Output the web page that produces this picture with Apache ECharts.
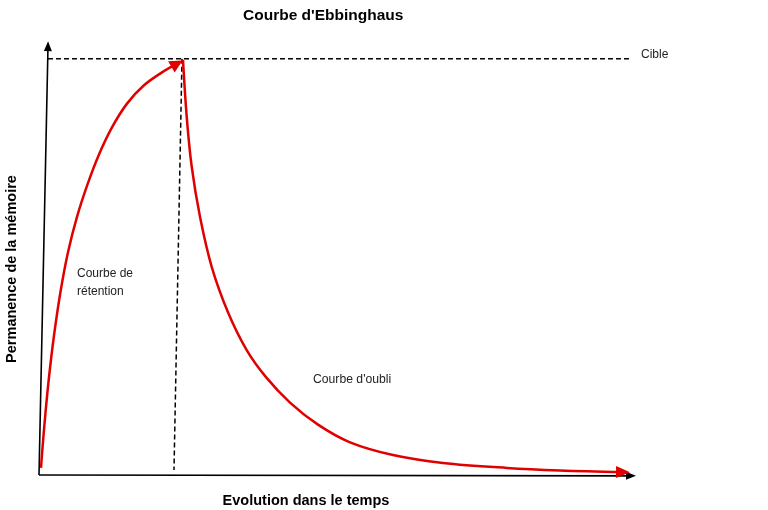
<!DOCTYPE html>
<html>
<head>
<meta charset="utf-8">
<script src="https://cdn.jsdelivr.net/npm/echarts@6/dist/echarts.min.js"></script>
<style>
html,body{margin:0;padding:0;background:#fff;}
#chart{width:768px;height:510px;}
</style>
</head>
<body>
<div id="chart"></div>
<script>
// Time in arbitrary units, memory permanence in % of target ("Cible" = 100)
var retentionTime = [0.4, 0.8, 1.3, 2.0, 3.0, 4.3, 5.8, 7.6, 9.7, 12.0, 14.6, 17.6, 21.0, 24.6, 27.6];
var retentionMemory = [1.7, 8.0, 15.0, 23.5, 33.5, 44.0, 53.5, 62.0, 69.8, 77.0, 83.5, 89.2, 93.6, 96.7, 98.8];
var forgettingTime = [28.8, 29.54, 30.54, 32.2, 34.54, 37.86, 41.54, 45.4, 50.2, 55.8, 62.2, 70.8, 80.8, 93.6, 104.2, 116.8];
var forgettingMemory = [99.7, 86.1, 74.1, 62.0, 50.0, 38.9, 30.0, 23.5, 17.4, 12.1, 7.85, 4.8, 2.9, 1.7, 1.1, 0.7];
var targetLevel = 100;
var targetTimeRange = [1.8, 118.2];
var peakTimeTop = 28.6, peakTimeBottom = 27.0, peakBottomLevel = 1.2;
var yAxisTime = [0, 1.8];
var yAxisLevel = [0, 103];
var xAxisTime = [0, 118.4];
var xAxisLevel = [0, -0.2];

var FONT = "'Liberation Sans', Arial, sans-serif";
var RED = '#e00000';

function arrowLine(xs, ys, rot, size, color, width, smooth) {
  var data = xs.map(function (x, i) { return [x, ys[i]]; });
  var last = data.length - 1;
  data[last] = { value: data[last], symbol: 'triangle', symbolSize: size, symbolRotate: rot };
  return {
    type: 'line', data: data, symbol: 'none', showSymbol: true, clip: false,
    smooth: smooth || false, silent: true, animation: false,
    lineStyle: { color: color, width: width },
    itemStyle: { color: color }
  };
}

var chart = echarts.init(document.getElementById('chart'), null, { renderer: 'canvas' });
chart.setOption({
  animation: false,
  title: {
    text: "Courbe d'Ebbinghaus", left: 238, top: 3,
    textStyle: { fontFamily: FONT, fontSize: 15.5, fontWeight: 'bold', color: '#000' }
  },
  grid: { left: 39, right: 129, top: 42, bottom: 35 },
  xAxis: { type: 'value', min: 0, max: 120, show: false },
  yAxis: { type: 'value', min: 0, max: 104, show: false },
  series: [
    arrowLine(yAxisTime, yAxisLevel, -1, [8, 10], '#000', 1.6),
    arrowLine(xAxisTime, xAxisLevel, -90, [8, 10], '#000', 1.6),
    {
      type: 'line', symbol: 'none', silent: true, clip: false,
      data: [[targetTimeRange[0], targetLevel], [targetTimeRange[1], targetLevel]],
      lineStyle: { color: '#000', width: 1.5, type: [5, 3] },
      endLabel: { show: true, formatter: 'Cible', distance: 11, offset: [0, -4], fontFamily: FONT, fontSize: 12, color: '#222' }
    },
    {
      type: 'line', symbol: 'none', silent: true, clip: false,
      data: [[peakTimeTop, targetLevel], [peakTimeBottom, peakBottomLevel]],
      lineStyle: { color: '#000', width: 1.5, type: [5, 3] }
    },
    arrowLine(retentionTime, retentionMemory, -60, [13, 13], RED, 2.5, 0.35),
    arrowLine(forgettingTime, forgettingMemory, -91, [12, 14], RED, 2.5, 0.35)
  ],
  graphic: [
    { type: 'text', left: 77, top: 265, style: { text: 'Courbe de\nrétention', font: '12px ' + FONT, fill: '#222', lineHeight: 18 } },
    { type: 'text', left: 313, top: 373.5, style: { text: "Courbe d'oubli", font: '12.2px ' + FONT, fill: '#222' } },
    { type: 'text', x: 12, y: 269, rotation: Math.PI / 2, style: { text: 'Permanence de la mémoire', font: 'bold 14.5px ' + FONT, fill: '#000', align: 'center', verticalAlign: 'middle' } },
    { type: 'text', x: 306, y: 501, style: { text: 'Evolution dans le temps', font: 'bold 14.5px ' + FONT, fill: '#000', align: 'center', verticalAlign: 'middle' } }
  ]
});
</script>
</body>
</html>
